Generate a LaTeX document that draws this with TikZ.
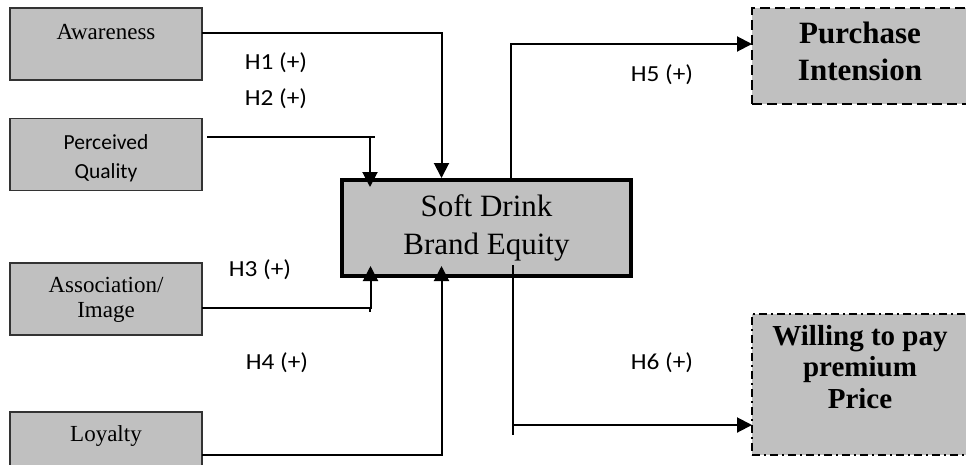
\documentclass[tikz,border=0pt]{standalone}
\usepackage{fontspec}
\setmainfont{Liberation Serif}
\newfontfamily\calib{Carlito}
\newfontfamily\hlab[FakeStretch=1.1]{Carlito}
\usetikzlibrary{arrows.meta,calc}
\definecolor{boxgray}{HTML}{C0C0C0}
\begin{document}
\begin{tikzpicture}[x=1pt,y=-1pt,
  smallbox/.style={draw=black!80, line width=1.5pt, fill=boxgray, minimum width=192pt, minimum height=72pt, inner sep=0pt, outer sep=0pt},
  mainbox/.style={draw=black, line width=4pt, fill=boxgray, minimum width=289pt, minimum height=96pt, inner sep=0pt, outer sep=2pt, align=center, font=\fontsize{31}{38}\selectfont},
  dashbox/.style={draw=black, line width=2.2pt, fill=boxgray, dash pattern=on 10pt off 5pt, minimum width=216pt, inner sep=0pt, outer sep=0pt},
  dotbox/.style={draw=black, line width=2.2pt, fill=boxgray, dash pattern=on 8pt off 4pt on 2pt off 4pt, minimum width=216pt, inner sep=0pt, outer sep=0pt},
  sertext/.style={inner sep=0pt, align=center, font=\fontsize{23}{25}\selectfont},
  santext/.style={inner sep=0pt, align=center, font=\calib\fontsize{21.5}{29}\selectfont},
  boldtext/.style={inner sep=0pt, align=center, font=\bfseries\fontsize{31}{37}\selectfont},
  boldtextb/.style={inner sep=0pt, align=center, font=\bfseries\fontsize{29}{31.5}\selectfont},
  hl/.style={inner sep=0pt, font=\hlab\fontsize{23}{27}\selectfont},
  conn/.style={line width=2pt},
  arr/.style={line width=2pt, -{Triangle[length=15pt,width=15pt]}}
]
\useasboundingbox (0,0) rectangle (966,464);
\clip (0,0) rectangle (966,464);

% boxes
\node[smallbox] (aw) at (106,44) {};
\node[smallbox] (pq) at (106,154.5) {};
\node[smallbox] (as) at (106,299) {};
\node[smallbox] (lo) at (106,448) {};
\node[mainbox] (se) at (486.5,228) {Soft Drink\\Brand Equity};
\node[dashbox, minimum height=96pt] (pi) at (860,56) {};
\node[dotbox, minimum height=141pt] (wp) at (860,384.5) {};

% texts
\node[sertext, anchor=base] (awt) at (106,39) {Awareness};
\node[santext] (pqt) at (106,158.3) {Perceived\\Quality};
\node[sertext] (ast) at (106,300) {Association/\\Image};
\node[sertext, anchor=base] (lot) at (106,441.5) {Loyalty};
\node[boldtext] (pit) at (860,51) {Purchase\\Intension};
\node[boldtextb] (wpt) at (860,366.7) {Willing to pay\\premium\\Price};

% connectors
\coordinate (pqturn) at (370,136.7);
\coordinate (asturn) at (370,308.3);
\coordinate (h6turn) at (512.5,425);
\draw[arr] ([yshift=11.5pt]aw.east) -| ($(se.north)+(-45,0)$);
\draw[arr] ([xshift=5pt,yshift=17.8pt]pq.east) -| ($(se.north)+(-116.5,9)$);
\draw[conn] (pqturn) -- ++(5,0);
\draw[arr] ([yshift=-9.3pt]as.east) -| ($(se.south)+(-116,-12)$);
\draw[conn] (asturn) -- ++(0,3.5);
\draw[arr] ([yshift=-7pt]lo.east) -| ($(se.south)+(-45,-12)$);
\draw[arr] ($(se.north)+(24.5,0)$) |- ([yshift=12pt]pi.west);
\draw[arr] ($(se.center)+(26,37)$) |- ([yshift=-40.5pt]wp.west);
\draw[conn] (h6turn) -- ++(0,10);

% labels
\node[hl] (h1) at (276,63) {H1 (+)};
\node[hl] (h2) at (276,99) {H2 (+)};
\node[hl] (h3) at (260,270) {H3 (+)};
\node[hl] (h4) at (277,363) {H4 (+)};
\node[hl] (h5) at (662,75) {H5 (+)};
\node[hl] (h6) at (662,363) {H6 (+)};
\end{tikzpicture}
\end{document}
